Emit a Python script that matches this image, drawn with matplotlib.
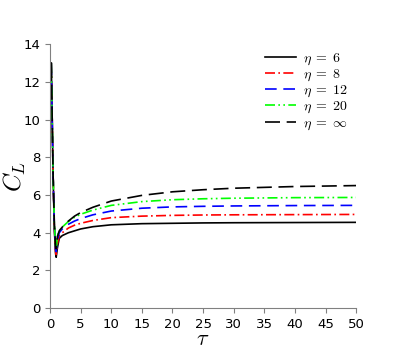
import matplotlib
matplotlib.use("Agg")
import matplotlib.pyplot as plt

# lift coefficient vs tau
tau = [0.2, 0.35, 0.5, 0.7, 0.9, 1.0, 1.2, 1.5, 2, 3, 4, 5, 7, 10, 15, 20, 25, 30, 40, 50]

cl_eta6 = [13.0, 10.0, 7.0, 4.2, 2.9, 2.7, 3.2, 3.7, 3.85, 4.0, 4.1, 4.2, 4.32, 4.42, 4.48, 4.5, 4.52, 4.53, 4.54, 4.55]
cl_eta8 = [13.0, 10.0, 7.0, 4.3, 3.0, 2.85, 3.4, 3.85, 4.0, 4.25, 4.4, 4.5, 4.65, 4.8, 4.88, 4.92, 4.94, 4.95, 4.96, 4.97]
cl_eta12 = [13.0, 10.0, 7.0, 4.4, 3.1, 3.0, 3.6, 4.0, 4.2, 4.45, 4.62, 4.75, 4.95, 5.15, 5.3, 5.37, 5.4, 5.42, 5.44, 5.45]
cl_eta20 = [13.0, 10.0, 7.0, 4.5, 3.3, 3.15, 3.8, 4.1, 4.3, 4.6, 4.82, 4.98, 5.2, 5.45, 5.65, 5.75, 5.8, 5.83, 5.86, 5.87]
cl_etainf = [13.0, 10.0, 7.0, 4.5, 3.3, 3.15, 3.8, 4.1, 4.3, 4.62, 4.88, 5.07, 5.35, 5.68, 5.98, 6.17, 6.28, 6.36, 6.45, 6.5]

labels = [r'$\eta\;=\;6$', r'$\eta\;=\;8$', r'$\eta\;=\;12$', r'$\eta\;=\;20$', r'$\eta\;=\;\infty$']

plt.rcParams['mathtext.fontset'] = 'cm'

fig = plt.figure(figsize=(4.07, 3.53), dpi=100)
ax = fig.add_axes([0.123, 0.127, 0.752, 0.748])

ax.plot(tau, cl_eta6, color='black', lw=1.2, label=labels[0])
ax.plot(tau, cl_eta8, color='red', lw=1.2, dashes=[6, 2, 1, 2], label=labels[1])
ax.plot(tau, cl_eta12, color='blue', lw=1.2, dashes=[7, 4], label=labels[2])
ax.plot(tau, cl_eta20, color='lime', lw=1.2, dashes=[6, 2, 1, 2, 1, 2], label=labels[3])
ax.plot(tau, cl_etainf, color='black', lw=1.2, dashes=[9, 4], label=labels[4])

ax.set_xlim(0, 50)
ax.set_ylim(0, 14)
ax.set_xticks(range(0, 51, 5))
ax.set_yticks(range(0, 15, 2))

for s in ['top', 'right']:
    ax.spines[s].set_visible(False)
for s in ['left', 'bottom']:
    ax.spines[s].set_color('gray')
ax.tick_params(colors='gray', labelcolor='black', labelsize=9.5)

ax.set_xlabel(r'$\tau$', fontsize=16)
ax.xaxis.set_label_coords(0.5, -0.078)
ax.set_ylabel(r'$C_L$', fontsize=18)
ax.yaxis.set_label_coords(-0.072, 0.5)

ax.legend(loc='upper left', frameon=False, fontsize=10, handlelength=2.2,
          handletextpad=0.5, labelspacing=0.0, borderpad=0, borderaxespad=0,
          bbox_to_anchor=(0.703, 0.975))

fig.savefig('out.png', dpi=100)
